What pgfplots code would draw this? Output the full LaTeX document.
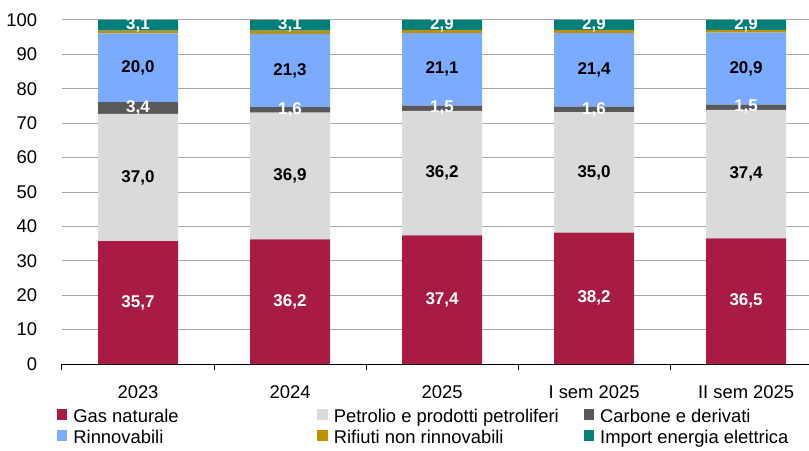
\documentclass[border=0pt]{standalone}
\usepackage{fontspec}
\setmainfont{Liberation Sans}
\usepackage{pgfplots}
\pgfplotsset{compat=1.18}
\definecolor{cgas}{HTML}{A81C44}
\definecolor{cpet}{HTML}{DADADA}
\definecolor{ccar}{HTML}{595959}
\definecolor{cren}{HTML}{7AABFF}
\definecolor{crif}{HTML}{BF9000}
\definecolor{cimp}{HTML}{007F7B}
\definecolor{cgrid}{HTML}{A6A6A6}
\begin{document}
\begin{tikzpicture}
\pgfplotsset{
  common/.style={
    scale only axis, width=560.25pt, height=258pt,
    at={(46.5pt,64.5pt)}, anchor=south west,
    xmin=-0.5, xmax=4.414, ymin=0, ymax=100,
  }
}
\begin{axis}[common,
  ybar stacked, bar width=60pt,
  /pgf/number format/assume math mode=true,
  axis x line*=bottom, axis y line*=left,
  y axis line style={draw=none},
  x axis line style={black, line width=0.75pt},
  ytick={0,10,...,100},
  ytick style={draw=none},
  ymajorgrids, grid style={cgrid, line width=0.75pt},
  xtick={0,1,2,3,4},
  xticklabels={2023,2024,2025,I sem 2025,II sem 2025},
  major x tick style={draw=none},
  minor xtick={-0.5,0.5,1.5,2.5,3.5},
  minor x tick style={black, line width=0.75pt},
  tick align=outside,
  minor tick length=4.5pt,
  tick label style={font=\fontsize{13.8}{16}\selectfont},
  yticklabel style={anchor=east, inner sep=0pt, xshift=-14.25pt},
  xticklabel style={anchor=north, inner sep=0pt, yshift=-12pt},
  legend columns=3,
  legend cell align=left,
  legend style={draw=none, fill=none, inner sep=0pt, outer sep=0pt,
    at={(0,0)}, anchor=north west, xshift=-3.75pt, yshift=-33.5pt,
    font=\fontsize{13.8}{16}\selectfont,
    row sep=0pt, column sep=0pt,
    /tikz/every odd column/.style={column sep=4.5pt},
    nodes={inner sep=0pt, text height=10pt, text depth=5.75pt},
  },
  legend image code/.code={\fill[#1] (0pt,-0.5pt) rectangle (7.8pt,7.3pt);},
]
\addplot[fill=cgas, draw=none] coordinates {(0,35.7) (1,36.2) (2,37.4) (3,38.2) (4,36.5)};
\addlegendentry{\makebox[183pt][l]{Gas naturale}}
\addplot[fill=cpet, draw=none] coordinates {(0,37.0) (1,36.9) (2,36.2) (3,35.0) (4,37.4)};
\addlegendentry{\makebox[187.5pt][l]{Petrolio e prodotti petroliferi}}
\addplot[fill=ccar, draw=none] coordinates {(0,3.4) (1,1.6) (2,1.5) (3,1.6) (4,1.5)};
\addlegendentry{Carbone e derivati}
\addplot[fill=cren, draw=none] coordinates {(0,20.0) (1,21.3) (2,21.1) (3,21.4) (4,20.9)};
\addlegendentry{Rinnovabili}
\addplot[fill=crif, draw=none] coordinates {(0,0.8) (1,0.9) (2,0.9) (3,0.9) (4,0.8)};
\addlegendentry{Rifiuti non rinnovabili}
\addplot[fill=cimp, draw=none] coordinates {(0,3.1) (1,3.1) (2,2.9) (3,2.9) (4,2.9)};
\addlegendentry{Import energia elettrica}
\end{axis}
\begin{axis}[common, hide axis,
  nodes near coords, point meta=explicit symbolic,
  nodes near coords align={center},
  every node near coord/.append style={anchor=center, inner sep=0pt,
    font=\fontsize{12.75}{14}\selectfont\bfseries},
]
\addplot[draw=none, mark=none, every node near coord/.append style={text=white}] coordinates
  {(0,17.85)[35,7] (1,18.1)[36,2] (2,18.7)[37,4] (3,19.1)[38,2] (4,18.25)[36,5]};
\addplot[draw=none, mark=none, every node near coord/.append style={text=black}] coordinates
  {(0,54.2)[37,0] (1,54.65)[36,9] (2,55.5)[36,2] (3,55.7)[35,0] (4,55.2)[37,4]};
\addplot[draw=none, mark=none, every node near coord/.append style={text=white}] coordinates
  {(0,74.4)[3,4] (1,73.9)[1,6] (2,74.35)[1,5] (3,74.0)[1,6] (4,74.65)[1,5]};
\addplot[draw=none, mark=none, every node near coord/.append style={text=black}] coordinates
  {(0,86.1)[20,0] (1,85.35)[21,3] (2,85.65)[21,1] (3,85.5)[21,4] (4,85.85)[20,9]};
\addplot[draw=none, mark=none, every node near coord/.append style={text=white}] coordinates
  {(0,98.45)[3,1] (1,98.45)[3,1] (2,98.55)[2,9] (3,98.55)[2,9] (4,98.55)[2,9]};
\end{axis}
\pgfresetboundingbox
\path[use as bounding box] (0,0) rectangle (606.75pt,337.5pt);
\end{tikzpicture}
\end{document}
